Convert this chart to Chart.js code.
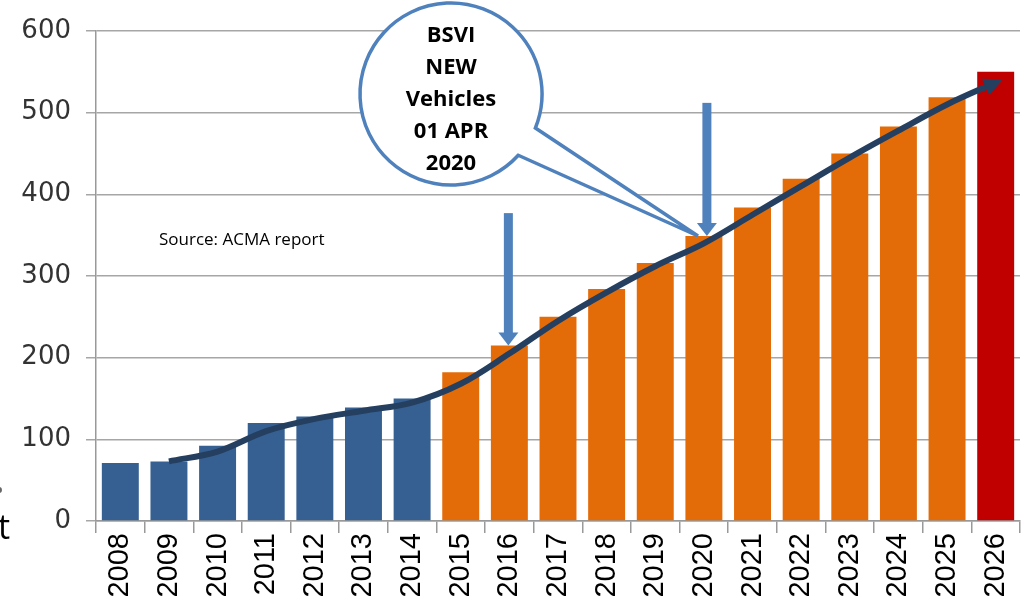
<!DOCTYPE html>
<html>
<head>
<meta charset="utf-8">
<script src="https://cdn.jsdelivr.net/npm/chart.js@4.4.1/dist/chart.umd.min.js"></script>
<style>
  html, body { margin: 0; padding: 0; background: #fff; }
  #wrap { position: relative; width: 1025px; height: 609px; overflow: hidden; }
  #edge { position: absolute; left: -2px; top: 503px; font: 34px "Open Sans", sans-serif; color: #000; }
</style>
</head>
<body>
<div id="wrap">
  <canvas id="bsChart" width="1025" height="609"></canvas>
  <div id="edge">t</div>
</div>
<script>
// years on the x axis
const years = ['2008', '2009', '2010', '2011', '2012', '2013', '2014', '2015', '2016', '2017',
               '2018', '2019', '2020', '2021', '2022', '2023', '2024', '2025', '2026'];
// bar values
const vehicles = [71, 73, 92, 120, 128, 139, 150, 182, 215, 250,
                  284, 316, 349, 384, 419, 450, 483, 519, 550];
// smoothed trend line (starts at 2009)
const trend = [null, 73, 85, 110, 125, 135, 145, 168, 205, 245,
               280, 312, 340, 375, 410, 445, 478, 510, 537];
const yTicks = [0, 100, 200, 300, 400, 500, 600];
const calloutLines = ['BSVI', 'NEW', 'Vehicles', '01 APR', '2020'];
const sourceNote = 'Source: ACMA report';

// colour by period: history blue, forecast orange, last year red
const barColors = years.map(y => y === '2026' ? '#C00000' : (+y <= 2014 ? '#366092' : '#E36C09'));

// arrow head at end of trend line + callout, arrows, note
const extras = {
    id: 'extras',
    afterDatasetsDraw(chart) {
        const ctx = chart.ctx;
        const x = chart.scales.x, y = chart.scales.y;

        // arrow head on trend line
        const pts = chart.getDatasetMeta(1).data;
        const a = pts[pts.length - 2], b = pts[pts.length - 1];
        const ang = Math.atan2(b.y - a.y, b.x - a.x);
        ctx.save();
        ctx.fillStyle = '#243F60';
        ctx.translate(b.x, b.y);
        ctx.rotate(ang);
        ctx.beginPath();
        ctx.moveTo(8, 0);
        ctx.lineTo(-11, -9);
        ctx.lineTo(-11, 9);
        ctx.closePath();
        ctx.fill();
        ctx.restore();

        // vertical blue arrows down to 2016 and 2020 bars
        const downArrow = (year, fromVal, dx) => {
            const i = years.indexOf(year);
            const cx = x.getPixelForValue(i) + dx;
            const top = y.getPixelForValue(fromVal);
            const tip = y.getPixelForValue(vehicles[i]);
            ctx.save();
            ctx.fillStyle = '#4F81BD';
            ctx.fillRect(cx - 4.5, top, 9, tip - top - 12);
            ctx.beginPath();
            ctx.moveTo(cx - 10, tip - 13);
            ctx.lineTo(cx + 10, tip - 13);
            ctx.lineTo(cx, tip);
            ctx.closePath();
            ctx.fill();
            ctx.restore();
        };
        downArrow('2016', 377, -1);
        downArrow('2020', 512, 3);

        // speech bubble
        const cx = 451, cy = 94, r = 91;
        const tipX = 698, tipY = 236;
        const a1 = Math.atan2(127 - cy, 533 - cx);
        const a2 = Math.atan2(155 - cy, 518 - cx);
        ctx.save();
        ctx.beginPath();
        ctx.arc(cx, cy, r, a2, a1 + Math.PI * 2, false);
        ctx.lineTo(tipX, tipY);
        ctx.closePath();
        ctx.fillStyle = '#fff';
        ctx.fill();
        ctx.lineWidth = 3.5;
        ctx.strokeStyle = '#4F81BD';
        ctx.stroke();

        ctx.fillStyle = '#000';
        ctx.font = 'bold 22px "Open Sans", sans-serif';
        ctx.textAlign = 'center';
        ctx.textBaseline = 'middle';
        calloutLines.forEach((t, k) => ctx.fillText(t, cx, 36 + k * 32));

        // source note
        ctx.font = '17px "Open Sans", sans-serif';
        ctx.textAlign = 'left';
        ctx.fillText(sourceNote, 159, 240);

        // stray dot at left edge
        ctx.fillStyle = '#666';
        ctx.beginPath();
        ctx.arc(-1, 490, 3, 0, Math.PI * 2);
        ctx.fill();
        ctx.restore();
    }
};

new Chart(document.getElementById('bsChart'), {
    data: {
        labels: years,
        datasets: [
            {
                type: 'bar',
                data: vehicles,
                backgroundColor: barColors,
                categoryPercentage: 1,
                barPercentage: 0.76,
                order: 2
            },
            {
                type: 'line',
                data: trend,
                borderColor: '#243F60',
                borderWidth: 6,
                tension: 0.35,
                pointRadius: 0,
                fill: false,
                order: 1
            }
        ]
    },
    options: {
        responsive: false,
        animation: false,
        layout: { padding: { top: 31, right: 5, left: 0, bottom: 0 } },
        plugins: { legend: { display: false }, tooltip: { enabled: false } },
        scales: {
            x: {
                grid: { drawOnChartArea: false, tickLength: 12, color: '#999', lineWidth: 1.5 },
                border: { color: '#999', width: 1.5 },
                ticks: { maxRotation: 90, minRotation: 90, color: '#000',
                         font: { family: '"Liberation Sans", Arial, sans-serif', size: 29 }, padding: 0 },
                afterFit: s => { s.height = 88; s.paddingLeft = 0; s.paddingRight = 0; }
            },
            y: {
                min: 0, max: 600,
                afterBuildTicks: s => { s.ticks = yTicks.map(v => ({ value: v })); },
                grid: { color: '#a6a6a6', lineWidth: 1.5, tickLength: 10 },
                border: { color: '#999', width: 1.5 },
                ticks: { color: '#333', padding: 15,
                         font: { family: '"DejaVu Sans", Verdana, sans-serif', size: 26 } },
                afterFit: s => { s.width = 96; }
            }
        }
    },
    plugins: [extras]
});
</script>
</body>
</html>
